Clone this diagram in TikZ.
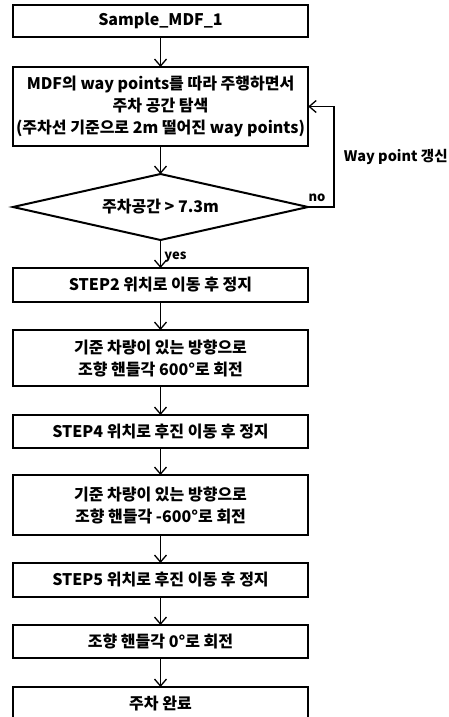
\documentclass[tikz,border=0pt]{standalone}
\usepackage{fontspec}
\setmainfont{Noto Sans CJK KR}
\usetikzlibrary{positioning,arrows.meta,shapes.geometric}

\begin{document}
\begin{tikzpicture}[
          x=1pt, y=1pt,
          node distance=28pt,
          box/.style={draw, line width=2pt, outer sep=0pt, minimum width=295pt, minimum height=33pt, inner ysep=2pt, align=center, font=\fontsize{16}{22}\selectfont\bfseries},
          decision/.style={draw, diamond, line width=2pt, outer sep=0pt, minimum width=295pt, minimum height=66pt, aspect=4.47, inner sep=0pt, font=\fontsize{16}{22}\selectfont\bfseries},
          arr/.style={-{Straight Barb[length=7pt,width=12pt]}, line width=1.3pt},
          lbl/.style={font=\fontsize{13}{15}\selectfont\bfseries}
      ]
        \useasboundingbox (0,0) rectangle (449,-717);
        \node[box, minimum height=32pt] (start) at (160.5,-21) {Sample\_MDF\_1};
        \node[box, minimum height=79pt, below=30pt of start] (scan) {MDF의 way points를 따라 주행하면서\\주차 공간 탐색\\(주차선 기준으로 2m 떨어진 way points)};
        \node[decision, below=of scan] (check) {주차공간 > 7.3m};
        \node[box, minimum height=34pt, below=of check] (step2) {STEP2 위치로 이동 후 정지};
        \node[box, minimum height=56pt, below=of step2] (turnL) {기준 차량이 있는 방향으로\\조향 핸들각 600°로 회전};
        \node[box, below=29pt of turnL] (step4) {STEP4 위치로 후진 이동 후 정지};
        \node[box, minimum height=60pt, below=27pt of step4] (turnR) {기준 차량이 있는 방향으로\\조향 핸들각 -600°로 회전};
        \node[box, minimum height=34pt, below=of turnR] (step5) {STEP5 위치로 후진 이동 후 정지};
        \node[box, below=of step5] (center) {조향 핸들각 0°로 회전};
        \node[box, below=29pt of center] (done) {주차 완료};
        \draw[arr] (start) -- (scan);
        \draw[arr] (scan) -- (check);
        \draw[arr] (check) -- node[lbl, right=0pt, yshift=-3pt] {yes} (step2);
        \draw[arr] (check.east) -- node[lbl, above=1pt, xshift=-4pt] {no} ++(26,0) |- node[pos=0.25, right=6pt, font=\fontsize{14.5}{16}\selectfont\bfseries] {Way point 갱신} (scan.east);
        \draw[arr] (step2) -- (turnL);
        \draw[arr] (turnL) -- (step4);
        \draw[arr] (step4) -- (turnR);
        \draw[arr] (turnR) -- (step5);
        \draw[arr] (step5) -- (center);
        \draw[arr] (center) -- (done);
      \end{tikzpicture}
\end{document}
